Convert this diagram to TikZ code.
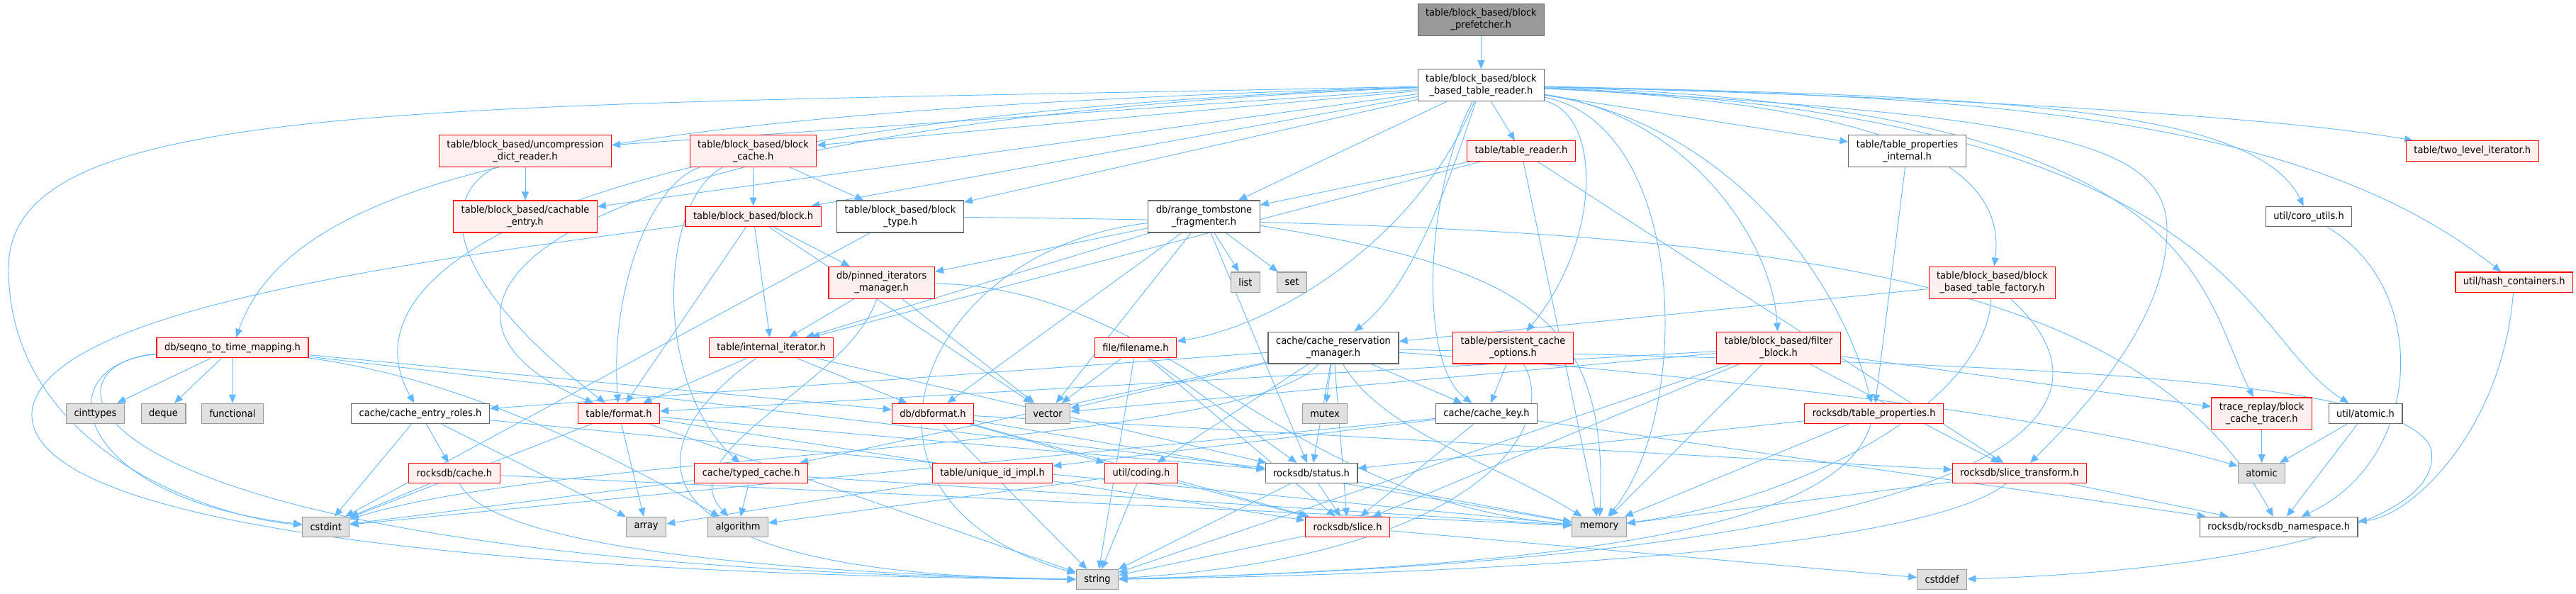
\documentclass[tikz,border=0pt]{standalone}
\usepackage{fontspec}
\newfontfamily\dotfont[FakeStretch=0.93]{DejaVu Sans}
\usepackage{xcolor}
\usepackage{tikz}
\usetikzlibrary{arrows.meta,backgrounds}
\definecolor{edgeblue}{RGB}{99,184,255}
\definecolor{hdrgray}{RGB}{102,102,102}
\definecolor{truncred}{RGB}{255,0,0}
\definecolor{truncfill}{RGB}{255,240,240}
\definecolor{sysfill}{RGB}{224,224,224}
\definecolor{sysline}{RGB}{153,153,153}
\definecolor{rootfill}{RGB}{153,153,153}
\tikzset{
  hdr/.style={rectangle, draw=hdrgray, fill=white, line width=0.6pt, inner xsep=5.5pt, inner ysep=0pt, minimum height=14.15pt, align=center, font=\dotfont\fontsize{7}{8.55}\selectfont},
  twol/.style={minimum height=22.45pt},
  trunch/.style={hdr, draw=truncred, fill=truncfill},
  sysh/.style={hdr, draw=sysline, fill=sysfill},
  rooth/.style={hdr, draw=hdrgray, fill=rootfill},
  incl/.style={-{Triangle[length=6pt,width=5pt]}, edgeblue, line width=0.45pt}
}

\begin{document}
\begin{tikzpicture}[x=0.5pt, y=-0.6758pt]
  \useasboundingbox (0,0) rectangle (3634,620);

  % Rows 0-2
  \node[rooth, twol] (prefetcher) at (2089.4,20.5) {table/block\_based/block\\\_prefetcher.h};
  \node[hdr, twol] (reader) at (2089.4,89) {table/block\_based/block\\\_based\_table\_reader.h};
  \node[trunch, twol] (uncomp) at (741,157.6) {table/block\_based/uncompression\\\_dict\_reader.h};
  \node[trunch, twol] (blkcache) at (1062.5,157.6) {table/block\_based/block\\\_cache.h};
  \node[trunch] (tblreader) at (2146,157.6) {table/table\_reader.h};
  \node[hdr, twol] (tpi) at (2690.5,157.6) {table/table\_properties\\\_internal.h};
  \node[trunch] (twolevel) at (3487.8,157.6) {table/two\_level\_iterator.h};

  % Rows 3-4
  \node[trunch, twol] (cachable) at (741,226) {table/block\_based/cachable\\\_entry.h};
  \node[trunch] (block) at (1062.6,226) {table/block\_based/block.h};
  \node[hdr, twol] (blktype) at (1270,226) {table/block\_based/block\\\_type.h};
  \node[hdr, twol] (rangetomb) at (1698.5,226) {db/range\_tombstone\\\_fragmenter.h};
  \node[hdr] (coro) at (3257,226) {util/coro\_utils.h};
  \node[trunch, twol] (pinned) at (1243.7,295) {db/pinned\_iterators\\\_manager.h};
  \node[sysh] (list) at (1757,294.5) {list};
  \node[sysh] (set) at (1822.5,294.5) {set};
  \node[trunch, twol] (factory) at (2810.4,295) {table/block\_based/block\\\_based\_table\_factory.h};
  \node[trunch] (hashc) at (3546.7,294.5) {util/hash\_containers.h};

  % Row 5
  \node[trunch] (seqno) at (328,363) {db/seqno\_to\_time\_mapping.h};
  \node[trunch] (intiter) at (1088,363) {table/internal\_iterator.h};
  \node[trunch] (filename) at (1602,363) {file/filename.h};
  \node[hdr, twol] (resmgr) at (1881,363) {cache/cache\_reservation\\\_manager.h};
  \node[trunch, twol] (persist) at (2134.5,363) {table/persistent\_cache\\\_options.h};
  \node[trunch, twol] (filter) at (2509,363) {table/block\_based/filter\\\_block.h};

  % Row 6
  \node[sysh] (cinttypes) at (134.5,431.6) {cinttypes};
  \node[sysh] (deque) at (230.5,431.6) {deque};
  \node[sysh] (functional) at (328,431.6) {functional};
  \node[hdr] (roles) at (593,431.6) {cache/cache\_entry\_roles.h};
  \node[trunch] (format) at (873,431.6) {table/format.h};
  \node[trunch] (dbformat) at (1316,431.6) {db/dbformat.h};
  \node[sysh] (vector) at (1478,431.6) {vector};
  \node[sysh] (mutex) at (1869,431.6) {mutex};
  \node[hdr] (cachekey) at (2097,431.6) {cache/cache\_key.h};
  \node[trunch] (tprops) at (2643.7,431.6) {rocksdb/table\_properties.h};
  \node[trunch, twol] (tracer) at (3190.6,431.6) {trace\_replay/block\\\_cache\_tracer.h};
  \node[hdr] (uatomic) at (3337,431.6) {util/atomic.h};

  % Row 7
  \node[trunch] (rcache) at (641,494) {rocksdb/cache.h};
  \node[trunch] (typed) at (1059.7,494) {cache/typed\_cache.h};
  \node[trunch] (uniqueid) at (1400,494) {table/unique\_id\_impl.h};
  \node[trunch] (coding) at (1610,494) {util/coding.h};
  \node[hdr] (status) at (1850,494) {rocksdb/status.h};
  \node[trunch] (slicetr) at (2849,494) {rocksdb/slice\_transform.h};
  \node[sysh] (atomic) at (3190.6,494) {atomic};

  % Rows 8-9
  \node[sysh] (cstdint) at (459.7,550) {cstdint};
  \node[sysh] (array) at (911.6,550) {array};
  \node[sysh] (algorithm) at (1041,550) {algorithm};
  \node[trunch] (slice) at (1901,550) {rocksdb/slice.h};
  \node[sysh] (memory) at (2256,550) {memory};
  \node[hdr] (nsp) at (3214.7,550) {rocksdb/rocksdb\_namespace.h};
  \node[sysh] (string) at (1548,605) {string};
  \node[sysh] (cstddef) at (2739.7,605) {cstddef};

  \begin{scope}[on background layer]
    \draw[incl] (prefetcher) -- (reader);

    % reader
    \foreach \t in {uncomp,cachable,blkcache,block,blktype,rangetomb,tblreader,tpi}
      \draw[incl] (reader) -- (\t);
    \draw[incl] (reader) .. controls (900,115) and (420,170) .. (seqno);
    \draw[incl] (reader) .. controls (600,112) and (12,100) .. (12,280) .. controls (12,470) and (300,540) .. (cstdint);
    \draw[incl] (reader) .. controls (700,125) and (490,300) .. (roles);
    \draw[incl] (reader) .. controls (700,130) and (540,330) .. (format);
    \draw[incl] (reader) .. controls (2000,250) and (1800,340) .. (filename);
    \draw[incl] (reader) .. controls (2040,200) and (1990,300) .. (resmgr);
    \draw[incl] (reader) .. controls (2010,200) and (2000,380) .. (cachekey);
    \draw[incl] (reader) .. controls (2260,120) and (2260,250) .. (persist);
    \draw[incl] (reader) .. controls (2380,130) and (2390,430) .. (memory);
    \draw[incl] (reader) .. controls (2380,120) and (2500,250) .. (filter);
    \draw[incl] (reader) .. controls (2450,130) and (2600,300) .. (tprops);
    \draw[incl] (reader) .. controls (2900,120) and (3057,150) .. (3057,240) .. controls (3057,330) and (2950,420) .. (slicetr);
    \draw[incl] (reader) .. controls (2700,110) and (2830,180) .. (factory);
    \draw[incl] (reader) .. controls (2700,100) and (3200,120) .. (twolevel);
    \draw[incl] (reader) .. controls (2800,100) and (3180,110) .. (coro);
    \draw[incl] (reader) .. controls (2800,100) and (3250,120) .. (hashc);
    \draw[incl] (reader) .. controls (3110,110) and (3100,300) .. (tracer);
    \draw[incl] (reader) .. controls (3160,120) and (3160,350) .. (uatomic);

    % block based
    \draw[incl] (uncomp) -- (cachable);
    \draw[incl] (uncomp) .. controls (610,210) and (640,300) .. (format);
    \foreach \t in {block,blktype}
      \draw[incl] (blkcache) -- (\t);
    \draw[incl] (blkcache) .. controls (920,190) and (860,300) .. (format);
    \draw[incl] (blkcache) .. controls (930,210) and (920,400) .. (typed);
    \foreach \t in {format,intiter,pinned,vector}
      \draw[incl] (block) -- (\t);
    \draw[incl] (block) .. controls (500,280) and (60,330) .. (45,430) .. controls (35,560) and (800,600) .. (string);
    \draw[incl] (blktype) -- (cstdint);
    \draw[incl] (blktype) .. controls (2400,235) and (3000,260) .. (nsp);

    % range tombstones, readers
    \foreach \t in {intiter,pinned,dbformat,vector,status,list,set}
      \draw[incl] (rangetomb) -- (\t);
    \draw[incl] (rangetomb) .. controls (1300,260) and (1150,520) .. (string);
    \draw[incl] (rangetomb) .. controls (2150,280) and (2270,330) .. (memory);
    \foreach \t in {intiter,rangetomb,memory,slicetr}
      \draw[incl] (tblreader) -- (\t);
    \draw[incl] (tpi) -- (tprops);
    \foreach \t in {vector,intiter}
      \draw[incl] (pinned) -- (\t);
    \draw[incl] (pinned) .. controls (1200,400) and (940,470) .. (algorithm);
    \draw[incl] (pinned) .. controls (1650,300) and (1800,520) .. (memory);

    % seqno mapping
    \foreach \t in {cinttypes,deque,functional,dbformat,status}
      \draw[incl] (seqno) -- (\t);
    \draw[incl] (seqno) .. controls (60,380) and (100,520) .. (cstdint);
    \draw[incl] (seqno) .. controls (40,380) and (60,590) .. (string);
    \draw[incl] (seqno) .. controls (650,395) and (850,470) .. (algorithm);

    % iterators, files
    \foreach \t in {format,dbformat,status}
      \draw[incl] (intiter) -- (\t);
    \draw[incl] (intiter) .. controls (900,460) and (850,600) .. (string);
    \foreach \t in {vector,status,slice,string}
      \draw[incl] (filename) -- (\t);

    % cache reservation
    \foreach \t in {roles,cachekey,typed,mutex,slice,status,coding,vector}
      \draw[incl] (resmgr) -- (\t);
    \draw[incl] (resmgr) .. controls (1750,470) and (800,470) .. (cstdint);
    \draw[incl] (resmgr) .. controls (1950,450) and (2100,480) .. (memory);
    \draw[incl] (resmgr) .. controls (2300,385) and (2900,430) .. (atomic);
    \draw[incl] (resmgr) .. controls (2800,380) and (3400,390) .. (3430,470) .. controls (3450,570) and (3000,600) .. (cstddef);
    \draw[incl] (persist) -- (cachekey);
    \draw[incl] (persist) .. controls (2200,440) and (2100,580) .. (string);

    % filter, factory
    \foreach \t in {format,slice,string,memory,vector,slicetr,tracer}
      \draw[incl] (filter) -- (\t);
    \draw[incl] (factory) -- (resmgr);
    \draw[incl] (factory) .. controls (2800,420) and (2550,520) .. (memory);
    \draw[incl] (factory) .. controls (3000,420) and (2900,580) .. (string);

    % util
    \draw[incl] (coro) .. controls (3430,300) and (3420,480) .. (nsp);
    \draw[incl] (hashc) .. controls (3530,450) and (3400,540) .. (nsp);
    \draw[incl] (tracer) -- (atomic);
    \foreach \t in {atomic,nsp}
      \draw[incl] (uatomic) -- (\t);

    % lower rows
    \foreach \t in {cstdint,rcache,array,memory}
      \draw[incl] (roles) -- (\t);
    \foreach \t in {array,cstdint,string,slice,status}
      \draw[incl] (format) -- (\t);
    \foreach \t in {memory,string,slice,slicetr,coding}
      \draw[incl] (dbformat) -- (\t);
    \foreach \t in {cstdint,slice,uniqueid,nsp}
      \draw[incl] (cachekey) -- (\t);
    \foreach \t in {status,memory}
      \draw[incl] (tprops) -- (\t);
    \draw[incl] (tprops) .. controls (2600,540) and (2300,590) .. (string);
    \foreach \t in {cstdint,memory}
      \draw[incl] (rcache) -- (\t);
    \draw[incl] (rcache) .. controls (700,580) and (1200,600) .. (string);
    \foreach \t in {algorithm,memory,cstdint}
      \draw[incl] (typed) -- (\t);
    \draw[incl] (uniqueid) -- (array);
    \foreach \t in {algorithm,string,slice}
      \draw[incl] (coding) -- (\t);
    \foreach \t in {slice,memory,string}
      \draw[incl] (status) -- (\t);
    \foreach \t in {memory,nsp}
      \draw[incl] (slicetr) -- (\t);
    \draw[incl] (slicetr) .. controls (2700,580) and (2000,600) .. (string);
    \foreach \t in {cstddef,string}
      \draw[incl] (slice) -- (\t);
  \end{scope}
\end{tikzpicture}
\end{document}
